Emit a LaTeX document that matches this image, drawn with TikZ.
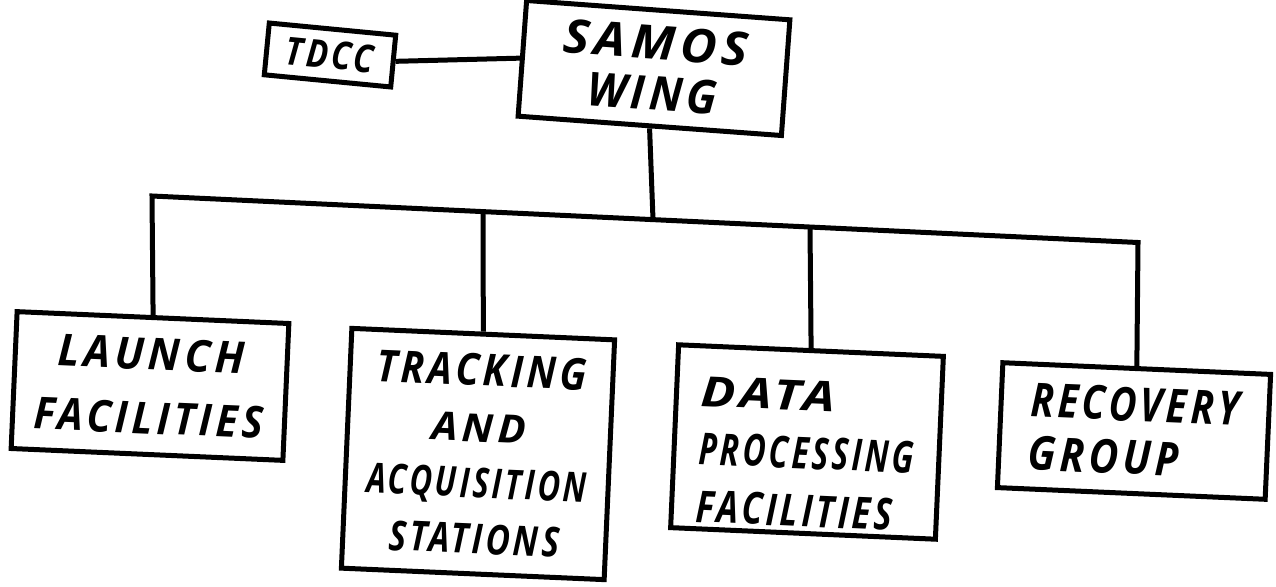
\documentclass[tikz,border=0pt]{standalone}
\usepackage{fontspec}
\usepackage{graphicx}
\newfontfamily\hwfont[LetterSpace=10]{Open Sans}
\newcommand\HW[3]{\resizebox{#1pt}{#2pt}{\hwfont\bfseries\itshape #3}}
\begin{document}
\begin{tikzpicture}[x=1pt,y=-1pt,
  orgbox/.style={draw, line width=5pt, inner sep=0pt, align=center, rotate=-2.5},
  conn/.style={line width=5pt, line join=miter}]
\fill[white] (0,0) rectangle (1276,586);
\useasboundingbox (0,0) rectangle (1276,586);
% boxes
\node[orgbox, minimum width=127pt, minimum height=52pt, rotate=-3] (tdcc) at (330,55)
  {\HW{88}{28}{TDCC}};
\node[orgbox, minimum width=264pt, minimum height=116pt, rotate=-1.7,
  font=\fontsize{20pt}{51pt}\selectfont] (samos) at (654,68)
  {\HW{185}{34}{SAMOS}\\\HW{130}{34}{WING}};
\node[orgbox, minimum width=272pt, minimum height=137pt,
  font=\fontsize{20pt}{64pt}\selectfont] (launch) at (150,386)
  {\HW{186}{32}{LAUNCH}\\\HW{230}{32}{FACILITIES}};
\node[orgbox, minimum width=263pt, minimum height=240pt,
  font=\fontsize{20pt}{56pt}\selectfont] (track) at (478,454)
  {\HW{210}{32}{TRACKING}\\\HW{94}{28}{AND}\\\HW{220}{30}{ACQUISITION}\\\HW{170}{30}{STATIONS}};
\node[orgbox, minimum width=265pt, minimum height=183pt, align=left,
  font=\fontsize{20pt}{58pt}\selectfont] (data) at (807,442)
  {\rule{0pt}{54pt}\HW{134}{30}{DATA}\\\HW{215}{32}{PROCESSING}\\\HW{196}{32}{FACILITIES}};
\node[orgbox, minimum width=268pt, minimum height=125pt, align=left,
  font=\fontsize{20pt}{53pt}\selectfont] (recov) at (1134,431)
  {\HW{209}{34}{RECOVERY}\\\HW{150}{34}{GROUP}};
% junctions on the bar
\coordinate (jL) at (152,196);
\coordinate (jT) at (483,211.6);
\coordinate (jS) at (653,219.6);
\coordinate (jD) at (810,227.2);
\coordinate (jR) at (1138,242.5);
% connectors
\draw[conn] (tdcc.east) -- (samos.west);
\draw[conn] (launch.north) -- (jL) -- (jR) -- (recov.north);
\draw[conn] (samos.south) -- (jS);
\draw[conn] (jT) -- (track.north);
\draw[conn] (jD) -- (data.north);
\end{tikzpicture}
\end{document}
